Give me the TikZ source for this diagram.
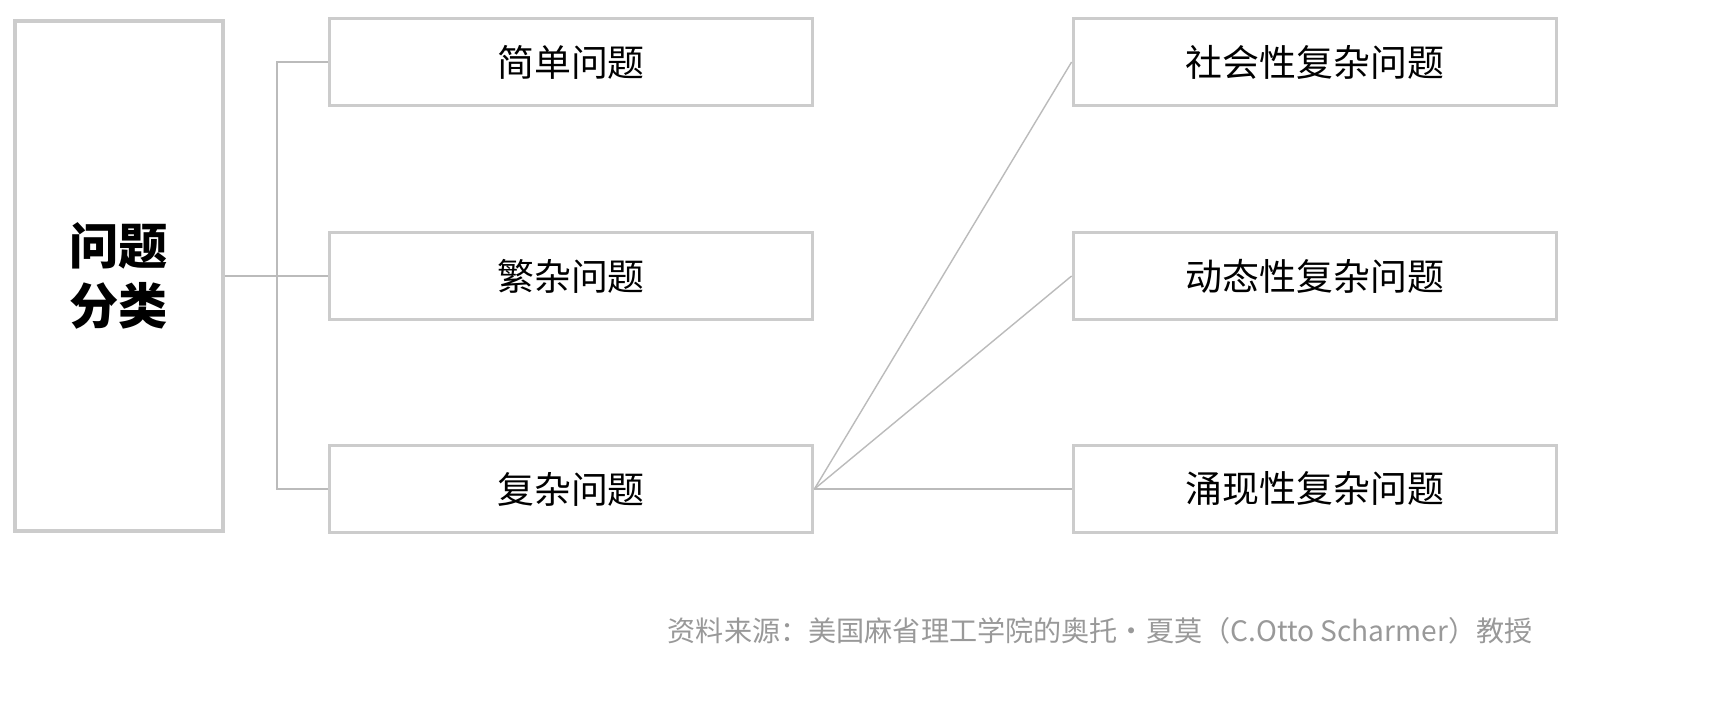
\documentclass[tikz,border=0pt]{standalone}
\usepackage{fontspec}
\setmainfont{Noto Sans CJK SC}
\usetikzlibrary{positioning}
\definecolor{boxgray}{HTML}{CCCCCC}
\definecolor{linegray}{HTML}{BBBBBB}
\definecolor{notegray}{HTML}{999999}

\begin{document}
\begin{tikzpicture}[x=0.01cm, y=-0.01cm]
      \tikzstyle{kind} = [rectangle, draw=boxgray, line width=1pt, minimum width=4.83cm, minimum height=0.87cm, font=\fontsize{10.5}{12}\selectfont]
      \tikzstyle{link} = [draw=linegray, line width=0.4pt]
      \useasboundingbox (0,0) rectangle (1714,718);

      \node[rectangle, draw=boxgray, line width=1pt, minimum width=2.08cm, minimum height=5.1cm, align=center, font=\fontsize{14}{17}\selectfont\bfseries] (root) at (119,276) {问题\\分类};

      \node[kind] (simple) at (571,62) {简单问题};
      \node[kind] (compl) at (571,276) {繁杂问题};
      \node[kind] (cplx) at (571,489) {复杂问题};

      \node[kind] (social) at (1315,62) {社会性复杂问题};
      \node[kind] (dyn) at (1315,276) {动态性复杂问题};
      \node[kind] (emer) at (1315,489) {涌现性复杂问题};

      \coordinate (fork) at (277,276);
      \draw[link] (root.east) -- (fork);
      \draw[link] (simple.west) -| (fork) |- (cplx.west);
      \draw[link] (fork) -- (compl.west);

      \draw[link] (cplx.east) -- (social.west);
      \draw[link] (cplx.east) -- (dyn.west);
      \draw[link] (cplx.east) -- (emer.west);

      \node[anchor=east, text=notegray, font=\fontsize{8}{9}\selectfont] (note) at (1545,631) {资料来源：美国麻省理工学院的奥托·夏莫（C.Otto Scharmer）教授};
\end{tikzpicture}
\end{document}
